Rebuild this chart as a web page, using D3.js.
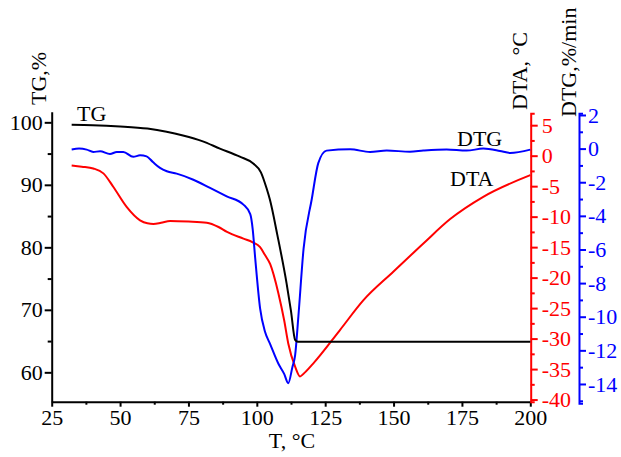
<!DOCTYPE html>
<html>
<head>
<meta charset="utf-8">
<script src="https://cdn.jsdelivr.net/npm/d3@7"></script>
<style>
  body { margin: 0; background: #fff; }
  svg text { font-family: "Liberation Serif", "Times New Roman", serif; }
</style>
</head>
<body>
<div id="chart"></div>
<script>
// TG curve (temperature, mass %)
const tgT = [32.3, 40, 50, 60, 67, 73, 80, 86.5, 93.8, 98.7, 101.5, 103.6, 104.8, 107.5, 110.9, 112.5, 114, 115, 200];
const tgV = [99.6, 99.55, 99.35, 99.0, 98.5, 97.9, 97.0, 95.8, 94.5, 93.4, 92.0, 89.4, 87.6, 82.0, 74.2, 69.8, 65.2, 64.9, 64.9];

// DTA curve (temperature, °C)
const dtaT = [32.3, 36, 40.2, 43.9, 47.5, 52.4, 57.3, 60, 62.2, 65, 68.3, 75, 81.7, 86, 89.1, 95.1, 98.5, 101.2, 103, 104.9,
  107.9, 110, 111.5, 114, 115.8, 117, 120.6, 130.4, 139, 150, 160.9, 170.7, 182.8, 200];
const dtaV = [-1.6, -1.8, -2.1, -2.9, -5.1, -8.4, -10.6, -11.1, -11.2, -11.0, -10.7, -10.8, -11.0, -11.7, -12.5, -13.6, -14.2, -15.0, -16.3, -17.8,
  -22.6, -27.0, -30.8, -34.6, -36.2, -35.8, -34.1, -28.6, -23.7, -19.0, -14.4, -10.4, -6.75, -3.2];

// DTG curve (temperature, %/min)
const dtgT = [32.3, 35, 37.8, 40.2, 42.7, 46.3, 48.8, 51.2, 54.8, 57.3, 59.7, 62, 64.6, 67.1, 70.7, 76.8, 82.9, 89, 95.1, 97.6,
  98.5, 99.4, 101.2, 103, 104.8, 107.9, 110, 111.5, 113, 114, 115.2, 117.1, 120.1, 122.5, 125.5, 134.1, 141.4, 147.5, 156,
  160.9, 169.4, 176.7, 182.8, 188.9, 192.6, 200];
const dtgV = [-0.05, 0.0, -0.06, -0.2, -0.16, -0.32, -0.2, -0.2, -0.49, -0.4, -0.46, -0.8, -1.15, -1.35, -1.49, -1.85, -2.34, -2.84, -3.33, -3.9,
  -4.8, -6.5, -9.5, -10.9, -11.6, -12.8, -13.4, -13.95, -13.0, -12.3, -9.98, -5.95, -3.0, -0.85, -0.12, -0.04, -0.2, -0.12, -0.18,
  -0.12, -0.06, -0.12, 0.0, -0.14, -0.26, -0.06];

const xTicks = [25, 50, 75, 100, 125, 150, 175, 200];
const tgTicks = [60, 70, 80, 90, 100];
const dtaTicks = [5, 0, -5, -10, -15, -20, -25, -30, -35, -40];
const dtgTicks = [2, 0, -2, -4, -6, -8, -10, -12, -14];

const W = 621, H = 457;
const svg = d3.select("#chart").append("svg")
  .attr("width", W).attr("height", H)
  .style("background", "#fff");

const x = d3.scaleLinear().domain([25, 200]).range([51.7, 530.3]);
const yTG = d3.scaleLinear().domain([55.3, 101.7]).range([401.7, 111.7]);
const yDTA = d3.scaleLinear().domain([-40.35, 6.95]).range([401.7, 113.3]);
const yDTG = d3.scaleLinear().domain([-15.15, 2.1]).range([403.3, 113.3]);

const fmt = d => String(d);

function styleAxis(g, color) {
  g.attr("font-family", '"Liberation Serif", serif');
  g.selectAll("path, line").attr("stroke", color).attr("stroke-width", 2);
  g.selectAll("text").attr("fill", color).style("font-size", "22px")
    .style("font-family", '"Liberation Serif", serif');
}

// minor ticks first, majors on top
svg.append("g").attr("transform", "translate(0,401.7)")
  .call(d3.axisBottom(x).tickValues(d3.range(37.5, 200, 25)).tickSize(3).tickFormat(""))
  .call(g => { g.select(".domain").remove(); styleAxis(g, "#000"); });
svg.append("g").attr("transform", "translate(0,401.7)")
  .call(d3.axisBottom(x).tickValues(xTicks).tickSize(5).tickSizeOuter(0).tickPadding(3).tickFormat(fmt))
  .call(g => styleAxis(g, "#000"));

svg.append("g").attr("transform", "translate(51.7,0)")
  .call(d3.axisLeft(yTG).tickValues([65, 75, 85, 95]).tickSize(4).tickFormat(""))
  .call(g => { g.select(".domain").remove(); styleAxis(g, "#000"); });
svg.append("g").attr("transform", "translate(51.7,0)")
  .call(d3.axisLeft(yTG).tickValues(tgTicks).tickSize(7).tickSizeOuter(0).tickPadding(2).tickFormat(fmt))
  .call(g => styleAxis(g, "#000"));

svg.append("g").attr("transform", "translate(530.7,0)")
  .call(d3.axisRight(yDTA).tickValues(d3.range(2.5, -40, -5)).tickSize(4).tickFormat(""))
  .call(g => { g.select(".domain").remove(); styleAxis(g, "#ff0000"); });
svg.append("g").attr("transform", "translate(530.7,0)")
  .call(d3.axisRight(yDTA).tickValues(dtaTicks).tickSize(7).tickSizeOuter(4).tickPadding(4).tickFormat(fmt))
  .call(g => styleAxis(g, "#ff0000"));

svg.append("g").attr("transform", "translate(579,0)")
  .call(d3.axisRight(yDTG).tickValues(d3.range(1, -16, -2)).tickSize(4).tickFormat(""))
  .call(g => { g.select(".domain").remove(); styleAxis(g, "#0000ff"); });
svg.append("g").attr("transform", "translate(579,0)")
  .call(d3.axisRight(yDTG).tickValues(dtgTicks).tickSize(7).tickSizeOuter(4).tickPadding(2).tickFormat(fmt))
  .call(g => styleAxis(g, "#0000ff"));

// curves
function drawCurve(ts, vs, yScale, color) {
  const pts = ts.map((t, i) => [t, vs[i]]);
  svg.append("path")
    .datum(pts)
    .attr("fill", "none")
    .attr("stroke", color)
    .attr("stroke-width", 2)
    .attr("stroke-linejoin", "round")
    .attr("d", d3.line().x(d => x(d[0])).y(d => yScale(d[1])).curve(d3.curveMonotoneX));
}
drawCurve(dtaT, dtaV, yDTA, "#ff0000");
drawCurve(dtgT, dtgV, yDTG, "#0000ff");
drawCurve(tgT, tgV, yTG, "#000");

// titles
const tfont = g => g.style("font-size", "22px").attr("fill", "#000");
svg.append("text").attr("x", 292).attr("y", 448).attr("text-anchor", "middle").text("T, °C").call(tfont);
svg.append("text").attr("transform", "translate(46,105) rotate(-90)").text("TG,%").call(tfont);
svg.append("text").attr("transform", "translate(527,110) rotate(-90)").text("DTA, °C").call(tfont);
svg.append("text").attr("transform", "translate(576,117) rotate(-90)").text("DTG,%/min").call(tfont);

// curve labels
svg.append("text").attr("x", 77).attr("y", 121).text("TG").call(tfont);
svg.append("text").attr("x", 457).attr("y", 145.5).text("DTG").call(tfont);
svg.append("text").attr("x", 450).attr("y", 186).text("DTA").call(tfont);
</script>
</body>
</html>
